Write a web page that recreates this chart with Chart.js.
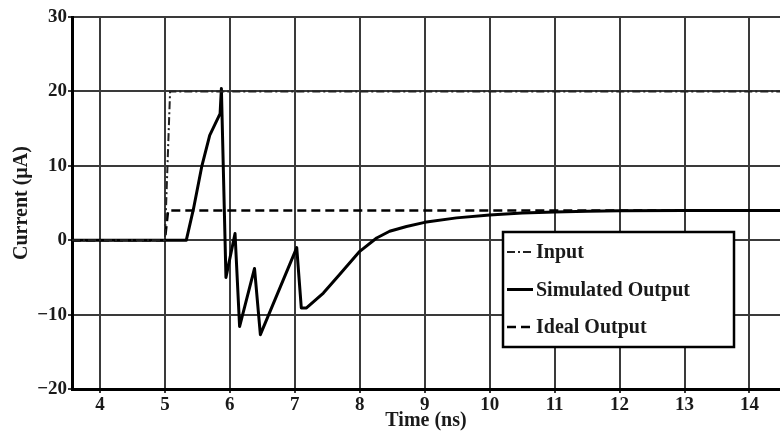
<!DOCTYPE html>
<html>
<head>
<meta charset="utf-8">
<script src="https://cdn.jsdelivr.net/npm/chart.js@4/dist/chart.umd.min.js"></script>
<style>
  body { margin: 0; background: #fff; }
  canvas { display: block; }
</style>
</head>
<body>
<canvas id="chart" width="780" height="439"></canvas>
<script>
// axis ranges and ticks
const xMin = 3.57;
const xMax = 14.47;
const xTicks = [4, 5, 6, 7, 8, 9, 10, 11, 12, 13, 14];
const yTicks = [-20, -10, 0, 10, 20, 30];

// Input (dash-dot)
const inputX = [3.57, 5.0, 5.08, 14.47];
const inputY = [0, 0, 20, 20];

// Simulated Output (solid)
const simX = [3.57, 5.33, 5.44, 5.57, 5.69, 5.85, 5.87, 5.94, 6.08, 6.15, 6.38, 6.47, 7.03, 7.10, 7.18, 7.44, 7.69, 8.0, 8.26, 8.46, 8.72, 9.0, 9.49, 10.0, 10.5, 11.0, 11.5, 12.0, 13.0, 14.47];
const simY = [0, 0, 4.2, 10, 14.1, 17, 20.4, -5.0, 0.9, -11.6, -3.8, -12.7, -1.0, -9.1, -9.1, -7.1, -4.6, -1.5, 0.3, 1.2, 1.85, 2.4, 3.0, 3.4, 3.65, 3.8, 3.9, 3.95, 4.0, 4.0];

// Ideal Output (dashed)
const idealX = [3.57, 5.0, 5.05, 14.47];
const idealY = [0, 0, 4, 4];

const toPoints = (xs, ys) => xs.map((x, i) => ({ x: x, y: ys[i] }));

const serif = "'Liberation Serif', 'DejaVu Serif', serif";
Chart.defaults.font.family = serif;
Chart.defaults.color = '#111';

// legend box drawn inside the plot, lower right
const boxLegend = {
  id: 'boxLegend',
  afterDraw(chart) {
    const ctx = chart.ctx;
    const area = chart.chartArea;
    const left = area.left + 431, top = area.top + 215;
    const w = 231, h = 115;
    ctx.save();
    ctx.fillStyle = '#fff';
    ctx.fillRect(left, top, w, h);
    ctx.lineWidth = 2.5;
    ctx.strokeStyle = '#000';
    ctx.strokeRect(left, top, w, h);
    ctx.font = 'bold 20px ' + serif;
    ctx.textBaseline = 'middle';
    chart.data.datasets.forEach((ds, i) => {
      const y = top + 20 + i * 37.5;
      ctx.beginPath();
      ctx.setLineDash(ds.borderDash || []);
      ctx.lineWidth = ds.borderWidth;
      ctx.strokeStyle = ds.borderColor;
      ctx.moveTo(left + 4, y);
      ctx.lineTo(left + 30, y);
      ctx.stroke();
      ctx.setLineDash([]);
      ctx.fillStyle = '#1a1a1a';
      ctx.fillText(ds.label, left + 33, y + 1);
    });
    ctx.restore();
  }
};

new Chart(document.getElementById('chart'), {
  type: 'line',
  data: {
    datasets: [
      {
        label: 'Input',
        data: toPoints(inputX, inputY),
        borderColor: '#222',
        borderWidth: 2,
        borderDash: [8, 3, 2, 3],
        pointRadius: 0,
        tension: 0
      },
      {
        label: 'Simulated Output',
        data: toPoints(simX, simY),
        borderColor: '#000',
        borderWidth: 3,
        borderJoinStyle: 'round',
        pointRadius: 0,
        tension: 0
      },
      {
        label: 'Ideal Output',
        data: toPoints(idealX, idealY),
        borderColor: '#000',
        borderWidth: 2.5,
        borderDash: [9, 5],
        pointRadius: 0,
        tension: 0
      }
    ]
  },
  options: {
    responsive: false,
    animation: false,
    layout: { padding: { top: 17, right: 0, left: 0, bottom: 0 } },
    plugins: {
      legend: { display: false },
      tooltip: { enabled: false }
    },
    scales: {
      x: {
        type: 'linear',
        min: xMin,
        max: xMax,
        afterBuildTicks: scale => { scale.ticks = xTicks.map(v => ({ value: v })); },
        afterFit: scale => { scale.height = 50; },
        grid: { color: '#3a3a3a', lineWidth: 2, tickLength: 4 },
        border: { color: '#000', width: 3 },
        ticks: { font: { size: 19, weight: 'bold' }, color: '#1a1a1a', padding: 1 },
        title: { display: true, text: 'Time (ns)', font: { size: 20, weight: 'bold' }, color: '#1a1a1a', padding: { top: 6, bottom: 6 } }
      },
      y: {
        min: -20,
        max: 30,
        afterBuildTicks: scale => { scale.ticks = yTicks.map(v => ({ value: v })); },
        afterFit: scale => { scale.width = 72; },
        grid: { color: '#3a3a3a', lineWidth: 2, tickLength: 4 },
        border: { color: '#000', width: 3 },
        ticks: {
          font: { size: 19, weight: 'bold' },
          color: '#1a1a1a',
          padding: 1,
          callback: v => (v < 0 ? '\u2212' + Math.abs(v) : String(v))
        },
        title: { display: true, text: 'Current (\u00B5A)', font: { size: 20, weight: 'bold' }, color: '#1a1a1a', padding: { top: 10, bottom: 10 } }
      }
    }
  },
  plugins: [boxLegend]
});
</script>
</body>
</html>
